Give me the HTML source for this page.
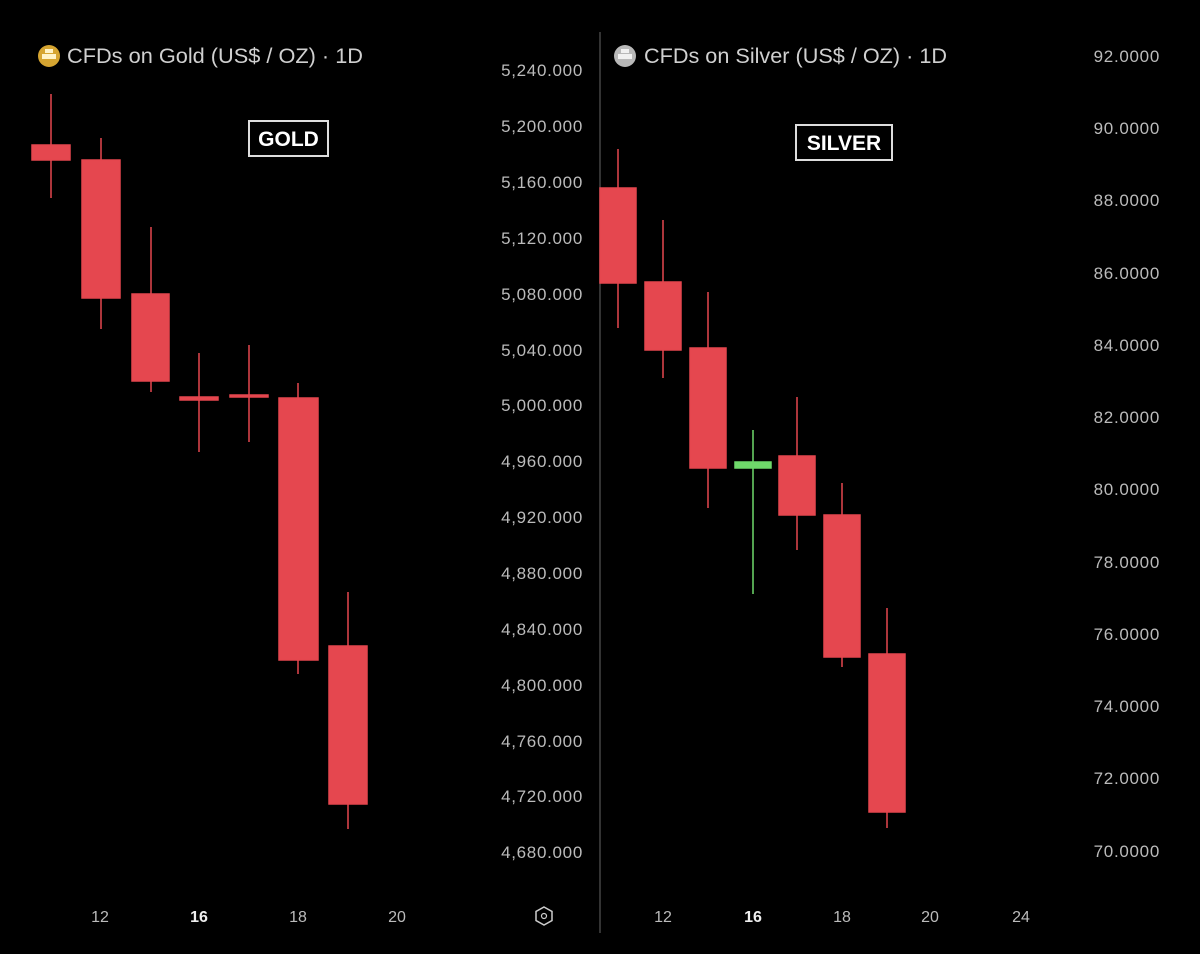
<!DOCTYPE html>
<html><head><style>
html,body{margin:0;padding:0;background:#000;}
body{width:1200px;height:949px;overflow:hidden;font-family:"Liberation Sans",sans-serif;}
</style></head><body>
<svg width="1200" height="949" xmlns="http://www.w3.org/2000/svg" font-family="Liberation Sans, sans-serif">
<rect width="1200" height="949" fill="#000"/>
<line x1="600" y1="32" x2="600" y2="933" stroke="#444" stroke-width="1.5"/>
<!-- headers -->
<circle cx="49" cy="56" r="11" fill="#d6a531"/>
<rect x="42" y="54" width="14" height="5" fill="#fff3c8"/>
<rect x="45" y="49" width="8" height="4" fill="#fff3c8"/>
<text x="67" y="63" font-size="21" fill="#d0d0d0" textLength="296" lengthAdjust="spacingAndGlyphs">CFDs on Gold (US$ / OZ) · 1D</text>
<circle cx="625" cy="56" r="11" fill="#b8b8b8"/>
<rect x="618" y="54" width="14" height="5" fill="#f0f0f0"/>
<rect x="621" y="49" width="8" height="4" fill="#f0f0f0"/>
<text x="644" y="63" font-size="21" fill="#d0d0d0" textLength="303" lengthAdjust="spacingAndGlyphs">CFDs on Silver (US$ / OZ) · 1D</text>
<!-- labels -->
<rect x="249" y="121" width="79" height="35" fill="none" stroke="#ddd" stroke-width="2"/>
<text x="288.5" y="146" font-size="21" font-weight="bold" fill="#fff" text-anchor="middle">GOLD</text>
<rect x="796" y="125" width="96" height="35" fill="none" stroke="#ddd" stroke-width="2"/>
<text x="844" y="150" font-size="21" font-weight="bold" fill="#fff" text-anchor="middle">SILVER</text>
<!-- gold axis -->
<g font-size="17" fill="#bbb" text-anchor="end" letter-spacing="0.7">
<text x="583" y="76">5,240.000</text><text x="583" y="132">5,200.000</text><text x="583" y="188">5,160.000</text>
<text x="583" y="244">5,120.000</text><text x="583" y="300">5,080.000</text><text x="583" y="356">5,040.000</text>
<text x="583" y="411">5,000.000</text><text x="583" y="467">4,960.000</text><text x="583" y="523">4,920.000</text>
<text x="583" y="579">4,880.000</text><text x="583" y="635">4,840.000</text><text x="583" y="691">4,800.000</text>
<text x="583" y="747">4,760.000</text><text x="583" y="802">4,720.000</text><text x="583" y="858">4,680.000</text>
</g>
<g font-size="17" fill="#bbb" text-anchor="end" letter-spacing="0.7">
<text x="1160" y="62">92.0000</text><text x="1160" y="206">88.0000</text><text x="1160" y="134">90.0000</text>
<text x="1160" y="279">86.0000</text><text x="1160" y="351">84.0000</text><text x="1160" y="423">82.0000</text>
<text x="1160" y="495">80.0000</text><text x="1160" y="568">78.0000</text><text x="1160" y="640">76.0000</text>
<text x="1160" y="712">74.0000</text><text x="1160" y="784">72.0000</text><text x="1160" y="857">70.0000</text>
</g>
<!-- x axis -->
<g font-size="16" fill="#bbb" text-anchor="middle">
<text x="100" y="922">12</text><text x="199" y="922" font-weight="bold" fill="#eee">16</text><text x="298" y="922">18</text><text x="397" y="922">20</text>
<text x="663" y="922">12</text><text x="753" y="922" font-weight="bold" fill="#eee">16</text><text x="842" y="922">18</text><text x="930" y="922">20</text><text x="1021" y="922">24</text>
</g>
<polygon points="544,907 552,911.5 552,920.5 544,925 536,920.5 536,911.5" fill="none" stroke="#ccc" stroke-width="1.5"/>
<circle cx="544" cy="916" r="2.5" fill="none" stroke="#ccc" stroke-width="1.2"/>
<!-- gold candles -->
<g stroke="#e5474f" stroke-width="1.5" fill="#e5474f">
<line x1="51" y1="94" x2="51" y2="198"/><rect x="32" y="145" width="38" height="15"/>
<line x1="101" y1="138" x2="101" y2="329"/><rect x="82" y="160" width="38" height="138"/>
<line x1="151" y1="227" x2="151" y2="392"/><rect x="132" y="294" width="37" height="87"/>
<line x1="199" y1="353" x2="199" y2="452"/><rect x="180" y="397" width="38" height="3"/>
<line x1="249" y1="345" x2="249" y2="442"/><rect x="230" y="395" width="38" height="2"/>
<line x1="298" y1="383" x2="298" y2="674"/><rect x="279" y="398" width="39" height="262"/>
<line x1="348" y1="592" x2="348" y2="829"/><rect x="329" y="646" width="38" height="158"/>
</g>
<!-- silver candles -->
<g stroke="#e5474f" stroke-width="1.5" fill="#e5474f">
<line x1="618" y1="149" x2="618" y2="328"/><rect x="600" y="188" width="36" height="95"/>
<line x1="663" y1="220" x2="663" y2="378"/><rect x="645" y="282" width="36" height="68"/>
<line x1="708" y1="292" x2="708" y2="508"/><rect x="690" y="348" width="36" height="120"/>
<line x1="797" y1="397" x2="797" y2="550"/><rect x="779" y="456" width="36" height="59"/>
<line x1="842" y1="483" x2="842" y2="667"/><rect x="824" y="515" width="36" height="142"/>
<line x1="887" y1="608" x2="887" y2="828"/><rect x="869" y="654" width="36" height="158"/>
</g>
<g stroke="#6fd96a" stroke-width="1.5" fill="#6fd96a">
<line x1="753" y1="430" x2="753" y2="594"/><rect x="735" y="462" width="36" height="6"/>
</g>
</svg>
</body></html>
